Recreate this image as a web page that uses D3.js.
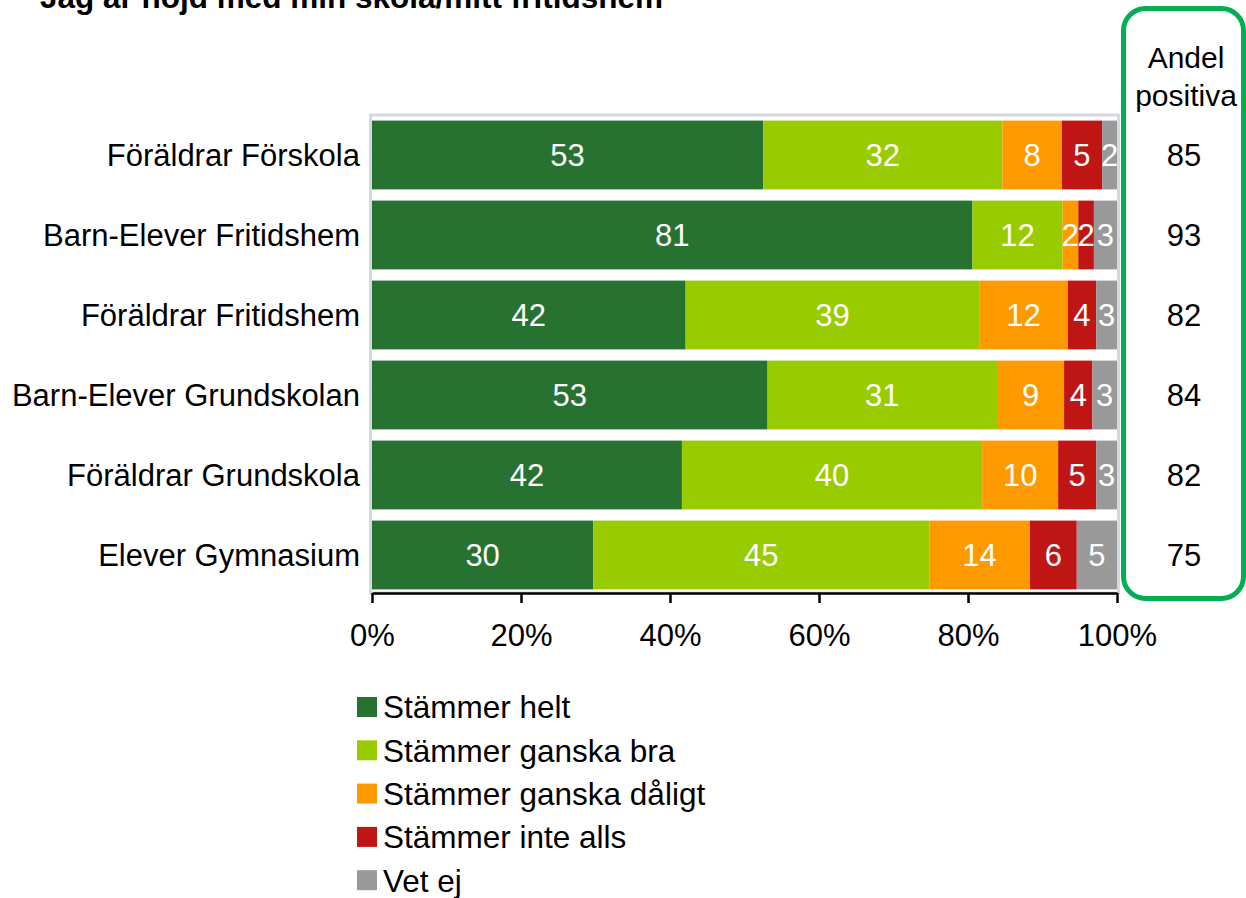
<!DOCTYPE html>
<html>
<head>
<meta charset="utf-8">
<script src="https://cdn.jsdelivr.net/npm/d3@7"></script>
<style>
  body { margin: 0; background: #fff; }
  svg { display: block; font-family: "Liberation Sans", Arial, sans-serif; }
</style>
</head>
<body>
<svg id="chart" width="1246" height="898"></svg>
<script>
// Data
const title = 'Jag är nöjd med min skola/mitt fritidshem';
const categories = [
    'Föräldrar Förskola',
    'Barn-Elever Fritidshem',
    'Föräldrar Fritidshem',
    'Barn-Elever Grundskolan',
    'Föräldrar Grundskola',
    'Elever Gymnasium'
];
const seriesNames = ['Stämmer helt', 'Stämmer ganska bra', 'Stämmer ganska dåligt', 'Stämmer inte alls', 'Vet ej'];
const stammerHelt = [52.5, 80.6, 42.1, 53.1, 41.6, 29.7];
const stammerGanskaBra = [32.1, 12.1, 39.4, 30.8, 40.3, 45.1];
const stammerGanskaDaligt = [8.0, 2.1, 11.9, 9.0, 10.2, 13.5];
const stammerInteAlls = [5.4, 2.1, 3.8, 3.8, 5.1, 6.3];
const vetEj = [2.0, 3.1, 2.8, 3.3, 2.8, 5.4];
const andelPositiva = [85, 93, 82, 84, 82, 75];
const xTicks = [0, 20, 40, 60, 80, 100];

const colors = ['#277230', '#99cc00', '#ff9900', '#c01515', '#999999'];
const series = [stammerHelt, stammerGanskaBra, stammerGanskaDaligt, stammerInteAlls, vetEj];

const svg = d3.select('#chart');
const fontSize = 31;

const x = d3.scaleLinear().domain([0, 100]).range([372, 1117]);
const y = d3.scaleBand()
    .domain(categories)
    .range([115, 595])
    .paddingInner(0.14)
    .paddingOuter(0.07);

// title (cut at the top like the original)
svg.append('text')
    .attr('x', 40)
    .attr('y', 8)
    .attr('font-size', 31.5)
    .attr('font-weight', 'bold')
    .text(title);

// plot area frame
svg.append('rect')
    .attr('x', x(0) - 1.5)
    .attr('y', 115)
    .attr('width', x(100) - x(0) + 3)
    .attr('height', 478)
    .attr('fill', 'none')
    .attr('stroke', '#d4d8e0')
    .attr('stroke-width', 3);

// stacked rows
const rows = categories.map((c, i) => {
    let acc = 0;
    return series.map((s, k) => {
        const seg = { cat: c, k: k, x0: acc, v: s[i] };
        acc += s[i];
        seg.x1 = acc;
        return seg;
    });
});

const rowG = svg.selectAll('.row')
    .data(rows)
    .enter()
    .append('g')
    .attr('class', 'row');

rowG.selectAll('rect')
    .data(d => d)
    .enter()
    .append('rect')
    .attr('x', d => x(d.x0))
    .attr('y', d => y(d.cat))
    .attr('width', d => x(d.x1) - x(d.x0))
    .attr('height', y.bandwidth())
    .attr('fill', d => colors[d.k]);

rowG.selectAll('text')
    .data(d => d)
    .enter()
    .append('text')
    .attr('x', d => (x(d.x0) + x(d.x1)) / 2)
    .attr('y', d => y(d.cat) + y.bandwidth() / 2)
    .attr('dy', '0.36em')
    .attr('text-anchor', 'middle')
    .attr('font-size', fontSize)
    .attr('fill', '#fff')
    .text(d => Math.round(d.v));

// category labels
svg.selectAll('.cat')
    .data(categories)
    .enter()
    .append('text')
    .attr('class', 'cat')
    .attr('x', 360)
    .attr('y', d => y(d) + y.bandwidth() / 2)
    .attr('dy', '0.36em')
    .attr('text-anchor', 'end')
    .attr('font-size', fontSize)
    .text(d => d);

// x axis
const xAxis = svg.append('g')
    .attr('transform', 'translate(0,593)')
    .call(d3.axisBottom(x)
        .tickValues(xTicks)
        .tickFormat(d => d + '%')
        .tickSize(10)
        .tickSizeOuter(0)
        .tickPadding(21));
xAxis.select('.domain').attr('stroke', '#000').attr('stroke-width', 2.5);
xAxis.selectAll('.tick line').attr('stroke', '#000').attr('stroke-width', 2.5);
xAxis.selectAll('.tick text')
    .attr('font-size', fontSize)
    .attr('font-family', '"Liberation Sans", Arial, sans-serif')
    .attr('fill', '#000');

// "Andel positiva" box
svg.append('rect')
    .attr('x', 1123.5)
    .attr('y', 8.5)
    .attr('width', 120)
    .attr('height', 590)
    .attr('rx', 22)
    .attr('fill', 'none')
    .attr('stroke', '#00b050')
    .attr('stroke-width', 5);

svg.append('text')
    .attr('x', 1186)
    .attr('y', 68)
    .attr('text-anchor', 'middle')
    .attr('font-size', 30)
    .text('Andel');
svg.append('text')
    .attr('x', 1186)
    .attr('y', 106)
    .attr('text-anchor', 'middle')
    .attr('font-size', 30)
    .text('positiva');

svg.selectAll('.pos')
    .data(andelPositiva)
    .enter()
    .append('text')
    .attr('class', 'pos')
    .attr('x', 1184)
    .attr('y', (d, i) => y(categories[i]) + y.bandwidth() / 2)
    .attr('dy', '0.36em')
    .attr('text-anchor', 'middle')
    .attr('font-size', fontSize)
    .text(d => d);

// legend
const legend = svg.append('g')
    .attr('transform', 'translate(357, 707)');

seriesNames.forEach((name, i) => {
    const item = legend.append('g')
        .attr('transform', `translate(0, ${i * 43.3})`);
    item.append('rect')
        .attr('x', 0)
        .attr('y', -10)
        .attr('width', 20)
        .attr('height', 20)
        .attr('fill', colors[i]);
    item.append('text')
        .attr('x', 26)
        .attr('y', 0)
        .attr('dy', '0.36em')
        .attr('font-size', 31.5)
        .text(name);
});
</script>
</body>
</html>
